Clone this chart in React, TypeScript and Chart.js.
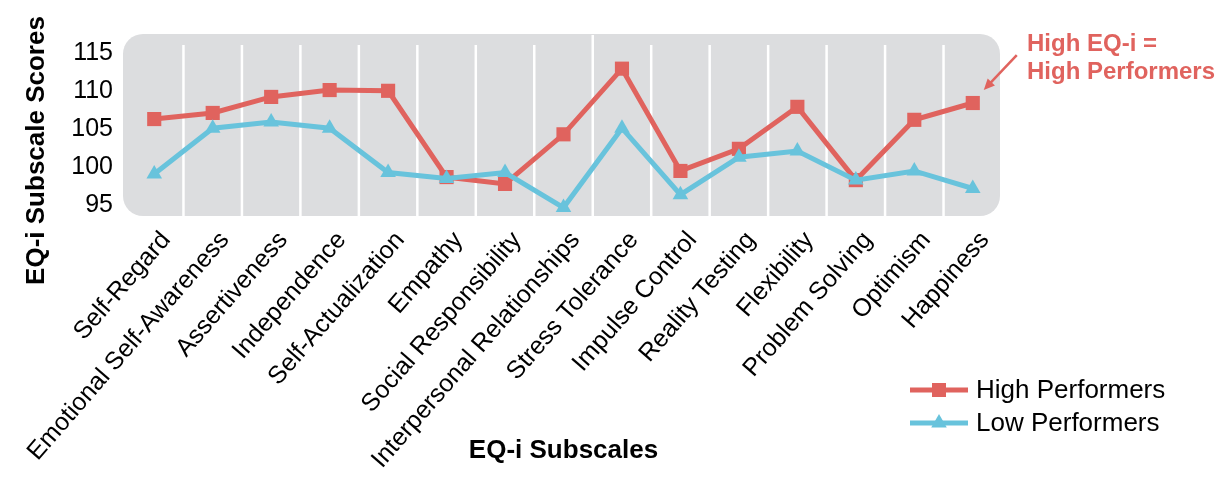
import React, { useEffect, useRef } from "react";
import { Chart, registerables } from "chart.js";

Chart.register(...registerables);

const categories = [
  "Self-Regard",
  "Emotional Self-Awareness",
  "Assertiveness",
  "Independence",
  "Self-Actualization",
  "Empathy",
  "Social Responsibility",
  "Interpersonal Relationships",
  "Stress Tolerance",
  "Impulse Control",
  "Reality Testing",
  "Flexibility",
  "Problem Solving",
  "Optimism",
  "Happiness",
];
const highPerformers = [106.3, 107.1, 109.2, 110.1, 110.0, 98.7, 97.8, 104.3, 112.9, 99.5, 102.4, 107.9, 98.3, 106.2, 108.4];
const lowPerformers = [99.1, 105.1, 105.9, 105.1, 99.3, 98.5, 99.3, 94.7, 105.1, 96.4, 101.3, 102.1, 98.3, 99.5, 97.2];
const yTicks = [95, 100, 105, 110, 115];
const seriesNames = ["High Performers", "Low Performers"];
const annotationLines = ["High EQ-i =", "High Performers"];
const yTitle = "EQ-i Subscale Scores";
const xTitle = "EQ-i Subscales";

const RED = "#E0635E";
const BLUE = "#68C3DC";
const GREY = "#DCDDDF";
const FONT = "'Liberation Sans', Arial, Helvetica, sans-serif";

function drawMarker(ctx: CanvasRenderingContext2D, kind: string, x: number, y: number, color: string) {
  ctx.fillStyle = color;
  ctx.beginPath();
  if (kind === "rect") {
    ctx.rect(x - 7, y - 7, 14, 14);
  } else {
    const r = 9;
    ctx.moveTo(x, y - r);
    ctx.lineTo(x + r * 0.866, y + r * 0.5);
    ctx.lineTo(x - r * 0.866, y + r * 0.5);
    ctx.closePath();
  }
  ctx.fill();
}

const backdrop = {
  id: "backdrop",
  beforeDatasetsDraw(chart: any) {
    const { ctx, chartArea: a, scales } = chart;
    const x = scales.x;
    ctx.save();
    ctx.fillStyle = GREY;
    ctx.beginPath();
    (ctx as any).roundRect(a.left - 2, a.top - 11, a.right - a.left, a.bottom - a.top + 11, 20);
    ctx.fill();
    ctx.strokeStyle = "#ffffff";
    ctx.lineWidth = 2.5;
    for (let i = 0; i < categories.length - 1; i++) {
      const xp = (x.getPixelForValue(i) + x.getPixelForValue(i + 1)) / 2;
      ctx.beginPath();
      ctx.moveTo(xp, i === 7 ? a.top - 10 : a.top);
      ctx.lineTo(xp, a.bottom);
      ctx.stroke();
    }
    ctx.restore();
  },
};

const extras = {
  id: "extras",
  afterDraw(chart: any) {
    const { ctx, chartArea: a, scales } = chart;
    ctx.save();
    // y-axis title
    ctx.save();
    ctx.translate(37, (a.top + a.bottom) / 2 + 20);
    ctx.rotate(-Math.PI / 2);
    ctx.fillStyle = "#000";
    ctx.font = `bold 26px ${FONT}`;
    ctx.textAlign = "center";
    ctx.textBaseline = "middle";
    ctx.fillText(yTitle, 0, 0);
    ctx.restore();
    // legend
    const lx = a.right - 92;
    const rows = [
      { name: seriesNames[0], color: RED, kind: "rect", y: 390 },
      { name: seriesNames[1], color: BLUE, kind: "triangle", y: 423 },
    ];
    for (const r of rows) {
      ctx.strokeStyle = r.color;
      ctx.lineWidth = 5;
      ctx.beginPath();
      ctx.moveTo(lx, r.y);
      ctx.lineTo(lx + 58, r.y);
      ctx.stroke();
      drawMarker(ctx, r.kind, lx + 29, r.y, r.color);
      ctx.fillStyle = "#000";
      ctx.font = `26px ${FONT}`;
      ctx.textAlign = "left";
      ctx.textBaseline = "middle";
      ctx.fillText(r.name, lx + 66, r.y + 1);
    }
    // annotation
    const last = categories.length - 1;
    const px = scales.x.getPixelForValue(last);
    const py = scales.y.getPixelForValue(highPerformers[last]);
    const tipX = px + 11;
    const tipY = py - 13;
    const sx = tipX + 33;
    const sy = tipY - 35;
    ctx.strokeStyle = RED;
    ctx.fillStyle = RED;
    ctx.lineWidth = 2.5;
    const ang = Math.atan2(tipY - sy, tipX - sx);
    ctx.beginPath();
    ctx.moveTo(sx, sy);
    ctx.lineTo(tipX - 8 * Math.cos(ang), tipY - 8 * Math.sin(ang));
    ctx.stroke();
    ctx.beginPath();
    ctx.moveTo(tipX, tipY);
    ctx.lineTo(tipX - 11 * Math.cos(ang) + 5 * Math.sin(ang), tipY - 11 * Math.sin(ang) - 5 * Math.cos(ang));
    ctx.lineTo(tipX - 11 * Math.cos(ang) - 5 * Math.sin(ang), tipY - 11 * Math.sin(ang) + 5 * Math.cos(ang));
    ctx.closePath();
    ctx.fill();
    ctx.font = `bold 24px ${FONT}`;
    ctx.textAlign = "left";
    ctx.textBaseline = "middle";
    ctx.fillText(annotationLines[0], a.right + 25, 44);
    ctx.fillText(annotationLines[1], a.right + 25, 72);
    ctx.restore();
  },
};

export default function App() {
  const ref = useRef<HTMLCanvasElement | null>(null);
  useEffect(() => {
    if (!ref.current) return;
    Chart.defaults.font.family = FONT;
    const chart = new Chart(ref.current, {
      type: "line",
      data: {
        labels: categories,
        datasets: [
          {
            label: seriesNames[0],
            data: highPerformers,
            borderColor: RED,
            backgroundColor: RED,
            borderWidth: 5,
            pointStyle: "rect",
            pointRadius: 10,
            pointBorderWidth: 0,
            pointBackgroundColor: RED,
            tension: 0,
            order: 1,
          },
          {
            label: seriesNames[1],
            data: lowPerformers,
            borderColor: BLUE,
            backgroundColor: BLUE,
            borderWidth: 5,
            pointStyle: "triangle",
            pointRadius: 9,
            pointBorderWidth: 0,
            pointBackgroundColor: BLUE,
            tension: 0,
            order: 0,
          },
        ],
      },
      options: {
        animation: false,
        responsive: false,
        maintainAspectRatio: false,
        layout: { padding: { top: 45, right: 218, left: 0, bottom: 0 } },
        plugins: { legend: { display: false }, tooltip: { enabled: false } },
        scales: {
          x: {
            offset: true,
            grid: { display: false },
            border: { display: false },
            ticks: {
              color: "#000",
              font: { size: 25 },
              minRotation: 49,
              maxRotation: 49,
              autoSkip: false,
              padding: 2,
              labelOffset: 12,
            },
            title: {
              display: true,
              text: xTitle,
              color: "#000",
              font: { size: 26, weight: "bold" },
              padding: { top: 0, bottom: 13 },
            },
            afterFit(scale: any) {
              scale.height = 263;
            },
          },
          y: {
            min: 93.6,
            max: 116,
            grid: { display: false, drawTicks: false },
            border: { display: false },
            afterBuildTicks(scale: any) {
              scale.ticks = yTicks.map((v) => ({ value: v }));
            },
            ticks: {
              color: "#000",
              font: { size: 25 },
              padding: 12,
            },
            title: { display: false },
            afterFit(scale: any) {
              scale.width = 125;
            },
          },
        },
      },
      plugins: [backdrop, extras],
    } as any);
    return () => chart.destroy();
  }, []);
  return (
    <div style={{ position: "absolute", left: 0, top: 0, width: 1220, height: 479 }}>
      <canvas ref={ref} width={1220} height={479} style={{ display: "block", width: 1220, height: 479 }} />
    </div>
  );
}
